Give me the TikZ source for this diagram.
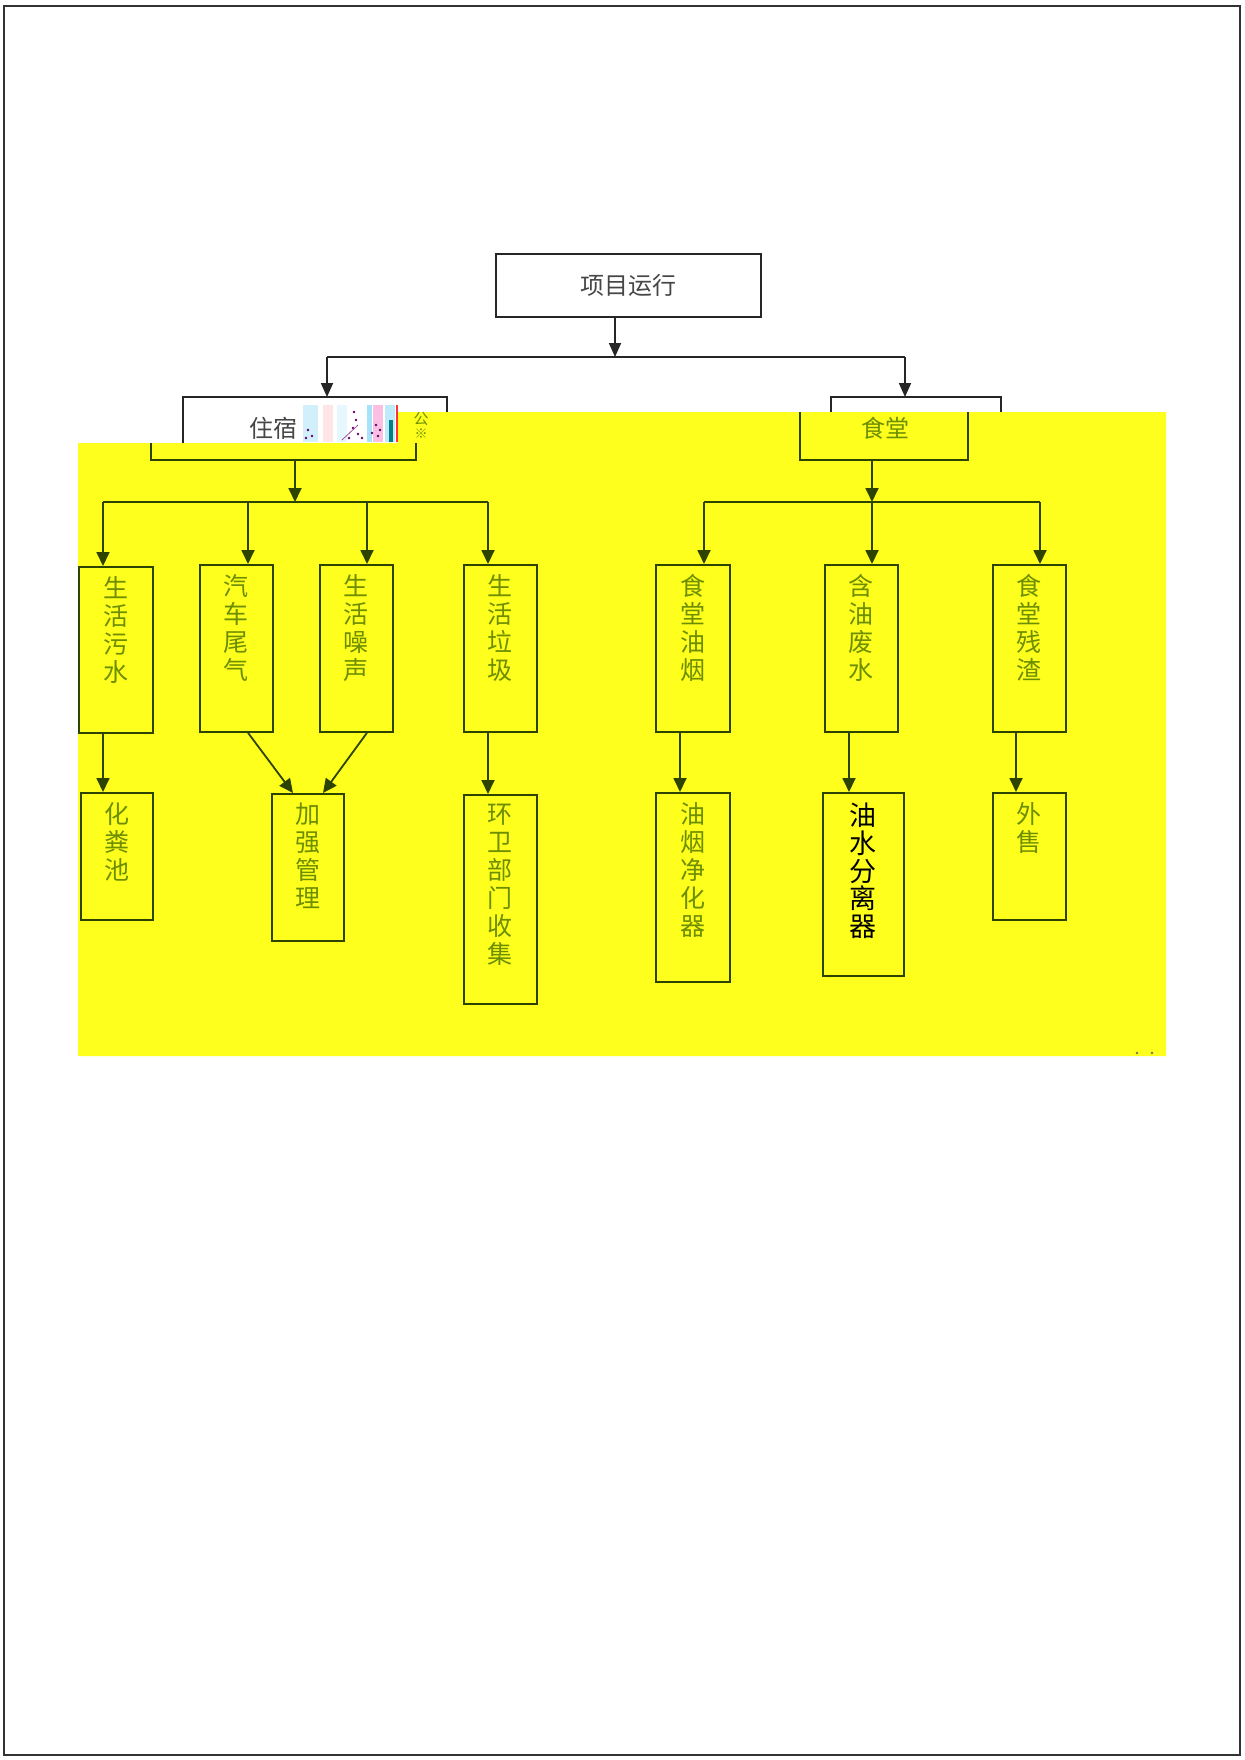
\documentclass[tikz,border=0pt]{standalone}
\usepackage{fontspec}
\setmainfont{Noto Sans CJK SC}
\usetikzlibrary{arrows.meta,calc}
\definecolor{yel}{RGB}{255,255,30}
\definecolor{lineg}{RGB}{45,68,0}
\definecolor{txtg}{RGB}{108,142,0}
\definecolor{txtk}{RGB}{70,70,70}
\tikzset{
  blk/.style={draw=black!85, line width=1.8pt},
  grn/.style={draw=lineg, line width=1.8pt},
  arrk/.style={blk, -{Triangle[length=14pt,width=12pt]}},
  arrg/.style={grn, -{Triangle[length=14pt,width=13pt]}},
  colbox/.style={grn, rectangle, inner sep=0pt, anchor=north west},
  coltxt/.style={label={[anchor=north, inner sep=0pt, yshift=-10pt, text=txtg, align=center,
      font=\fontsize{25pt}{28pt}\selectfont]north:{#1}}},
  coltxtk/.style={label={[anchor=north, inner sep=0pt, yshift=-11pt, text=black, align=center,
      font=\fontsize{27pt}{27.6pt}\selectfont]north:{#1}}},
}
\begin{document}
\begin{tikzpicture}[x=1pt,y=-1pt]
\useasboundingbox (0,0) rectangle (1244,1760);
\fill[white] (0,0) rectangle (1244,1760);
% page frame
\draw[draw=black!80, line width=2pt] (4,6) rectangle (1240,1755);

% top node
\node[blk, rectangle, minimum width=265pt, minimum height=63pt, inner sep=0pt, anchor=north west,
      text=txtk, font=\fontsize{24pt}{26pt}\selectfont] (top) at (495,253) {项目运行};
\coordinate (mainbar) at (615,357);
\coordinate (zsT) at (327,397);
\coordinate (stT) at (905,397);
\draw[arrk] (top.south -| mainbar) -- (mainbar);
\draw[blk] (zsT |- mainbar) -- (stT |- mainbar);
\draw[arrk] (zsT |- mainbar) -- (zsT);
\draw[arrk] (stT |- mainbar) -- (stT);

% white parts of the level-2 boxes
\draw[blk] (183,443) -- (183,397) -- (447,397) -- (447,412);
\draw[blk] (831,412) -- (831,397) -- (1001,397) -- (1001,412);
\node[text=txtk, font=\fontsize{24pt}{26pt}\selectfont, inner sep=0pt] (zs) at (273,428) {住宿};
% garbled stripes
\fill[cyan!18] (303,405) rectangle (318,442);
\fill[pink!40] (323,405) rectangle (333,442);
\fill[cyan!10] (337,405) rectangle (347,442);
\fill[cyan!35] (367,405) rectangle (372,442);
\fill[magenta!25] (373,405) rectangle (383,442);
\fill[cyan!25] (385,405) rectangle (395,442);
\fill[teal] (389,420) rectangle (393,442);
\fill[red!80] (396,405) rectangle (397.5,442);
\foreach \px/\py in {308/430,312/436,306/438,354/412,356/420,353/428,358/434,362/438,376/425,380/430,378/436,372/433,349/438}
  \fill[violet!80!black] (\px,\py) circle (1.3pt);
\draw[violet!70, line width=0.8pt] (342,440) -- (358,425);

% yellow band
\fill[yel] (78,443) -- (398,443) -- (398,412) -- (1166,412) -- (1166,1056) -- (78,1056) -- cycle;
\fill[lineg!70] (1137,1053) circle (1.4pt) (1152,1053) circle (1.4pt);

% overlay frames
\draw[grn] (151,443) -- (151,460) -- (416,460) -- (416,443);
\node[text=txtg, font=\fontsize{15pt}{15pt}\selectfont, inner sep=0pt] (gong) at (421,419) {公};
\node[text=txtg, font=\fontsize{13pt}{13pt}\selectfont, inner sep=0pt] (mi) at (421,434) {※};
\draw[grn] (800,412) -- (800,460) -- (968,460) -- (968,412);
\node[text=txtg, font=\fontsize{24pt}{26pt}\selectfont, inner sep=0pt] (st) at (885,428) {食堂};

% row 1 boxes
\node[colbox, minimum width=74pt, minimum height=166pt, coltxt={生\\活\\污\\水}] (a1) at (78,566) {};
\node[colbox, minimum width=73pt, minimum height=167pt, coltxt={汽\\车\\尾\\气}] (a2) at (199,564) {};
\node[colbox, minimum width=73pt, minimum height=167pt, coltxt={生\\活\\噪\\声}] (a3) at (319,564) {};
\node[colbox, minimum width=73pt, minimum height=167pt, coltxt={生\\活\\垃\\圾}] (a4) at (463,564) {};
\node[colbox, minimum width=74pt, minimum height=167pt, coltxt={食\\堂\\油\\烟}] (a5) at (655,564) {};
\node[colbox, minimum width=73pt, minimum height=167pt, coltxt={含\\油\\废\\水}] (a6) at (824,564) {};
\node[colbox, minimum width=73pt, minimum height=167pt, coltxt={食\\堂\\残\\渣}] (a7) at (992,564) {};

% row 2 boxes
\node[colbox, minimum width=72pt, minimum height=127pt, coltxt={化\\粪\\池}] (b1) at (80,792) {};
\node[colbox, minimum width=72pt, minimum height=147pt, coltxt={加\\强\\管\\理}] (b2) at (271,793) {};
\node[colbox, minimum width=73pt, minimum height=209pt, coltxt={环\\卫\\部\\门\\收\\集}] (b3) at (463,794) {};
\node[colbox, minimum width=74pt, minimum height=189pt, coltxt={油\\烟\\净\\化\\器}] (b4) at (655,792) {};
\node[colbox, minimum width=81pt, minimum height=183pt, coltxtk={油\\水\\分\\离\\器}] (b5) at (822,792) {};
\node[colbox, minimum width=73pt, minimum height=127pt, coltxt={外\\售}] (b6) at (992,792) {};

% left branch
\coordinate (lbar) at (295,502);
\draw[arrg] (lbar |- 0,460) -- (lbar);
\coordinate (p1) at (103,502);
\coordinate (p2) at (248,502);
\coordinate (p3) at (367,502);
\coordinate (p4) at (488,502);
\draw[grn] (p1) -- (p4);
\foreach \i in {1,2,3,4} \draw[arrg] (p\i) -- (p\i |- a\i.north);

% right branch
\coordinate (rbar) at (872,502);
\draw[arrg] (rbar |- 0,460) -- (rbar);
\coordinate (p5) at (704,502);
\coordinate (p6) at (872,502);
\coordinate (p7) at (1040,502);
\draw[grn] (p5) -- (p7);
\foreach \i in {5,6,7} \draw[arrg] (p\i) -- (p\i |- a\i.north);

% row 1 -> row 2
\coordinate (q1) at (103,0);
\coordinate (q4) at (488,0);
\coordinate (q5) at (680,0);
\coordinate (q6) at (849,0);
\coordinate (q7) at (1016,0);
\coordinate (r2) at (293,0);
\coordinate (r3) at (323,0);
\draw[arrg] (q1 |- a1.south) -- (q1 |- b1.north);
\draw[arrg] (p2 |- a2.south) -- (r2 |- b2.north);
\draw[arrg] (p3 |- a3.south) -- (r3 |- b2.north);
\draw[arrg] (q4 |- a4.south) -- (q4 |- b3.north);
\draw[arrg] (q5 |- a5.south) -- (q5 |- b4.north);
\draw[arrg] (q6 |- a6.south) -- (q6 |- b5.north);
\draw[arrg] (q7 |- a7.south) -- (q7 |- b6.north);
\end{tikzpicture}
\end{document}
